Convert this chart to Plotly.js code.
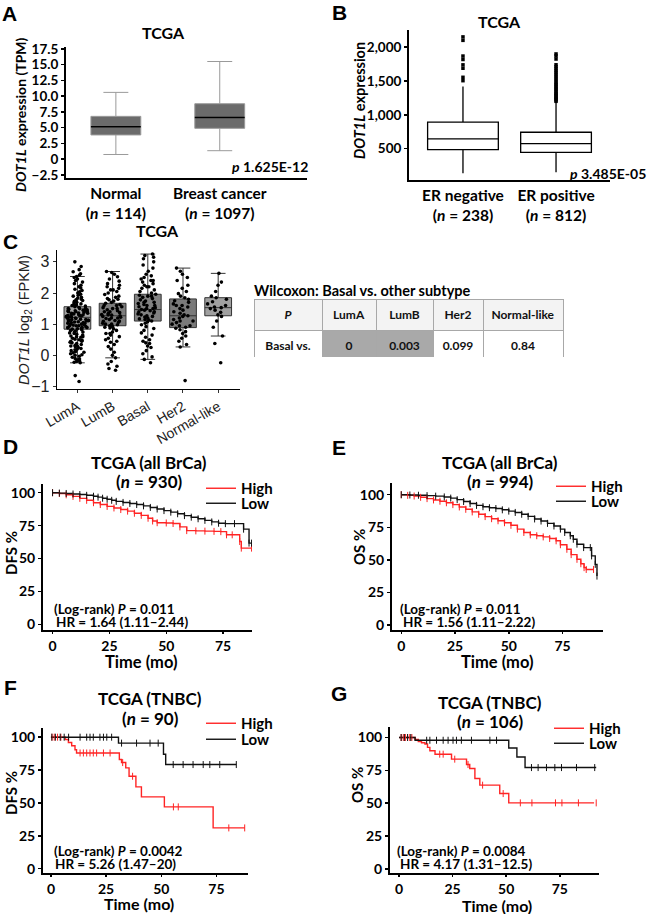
<!DOCTYPE html>
<html><head><meta charset="utf-8">
<script src="https://cdn.plot.ly/plotly-3.0.1.min.js"></script>
<style>html,body{margin:0;padding:0;background:#fff}#chart{width:649px;height:914px}</style>
</head><body><div id="chart"></div>
<script>
// ---------------- DATA ----------------
// Panel A
const aCategories = ['Normal', 'Breast cancer'];
const aTickText = ['<b>Normal</b><br><b>(<i>n</i> = 114)</b>', '<b>Breast cancer</b><br><b>(<i>n</i> = 1097)</b>'];
const aLowerFence = [0.75, 1.35];
const aQ1 = [3.85, 4.9];
const aMedian = [5.15, 6.6];
const aQ3 = [6.8, 8.8];
const aUpperFence = [10.6, 15.5];
const aYTicks = [-2.5, 0, 2.5, 5, 7.5, 10, 12.5, 15, 17.5];
const aYTickText = ['\u22122.5', '0', '2.5', '5.0', '7.5', '10.0', '12.5', '15.0', '17.5'];

// Panel B
const bCategories = ['ER negative', 'ER positive'];
const bTickText = ['<b>ER negative</b><br><b>(<i>n</i> = 238)</b>', '<b>ER positive</b><br><b>(<i>n</i> = 812)</b>'];
const bLowerFence = [137, 152];
const bQ1 = [485, 445];
const bMedian = [645, 575];
const bQ3 = [893, 743];
const bUpperFence = [1420, 1190];
const bOutlierCat = ['ER negative','ER negative','ER negative','ER negative','ER negative','ER negative','ER negative','ER negative',
  'ER positive','ER positive','ER positive','ER positive','ER positive','ER positive','ER positive','ER positive','ER positive','ER positive',
  'ER positive','ER positive','ER positive','ER positive','ER positive','ER positive','ER positive','ER positive','ER positive','ER positive',
  'ER positive','ER positive','ER positive','ER positive','ER positive'];
const bOutlierVal = [1505, 1555, 1689, 1739, 1818, 1869, 2101, 2152,
  1200, 1220, 1240, 1260, 1280, 1300, 1320, 1345, 1370, 1395, 1420, 1445, 1470, 1500, 1530, 1560, 1590, 1620, 1650, 1680, 1710, 1740, 1825, 1870, 1900];
const bYTicks = [500, 1000, 1500, 2000];
const bYTickText = ['500', '1,000', '1,500', '2,000'];

// Panel C
const cCategories = ['LumA', 'LumB', 'Basal', 'Her2', 'Normal-like'];
const cLowerFence = [-0.24, -0.08, -0.13, 0.27, 0.62];
const cQ1 = [0.84, 0.95, 1.10, 0.89, 1.27];
const cMedian = [1.22, 1.27, 1.47, 1.27, 1.53];
const cQ3 = [1.56, 1.67, 1.96, 1.81, 1.85];
const cUpperFence = [2.53, 2.69, 3.25, 2.80, 2.63];
const cFill = ['#a4a4a4', '#7c7c7c', '#828282', '#7a7a7a', '#a0a0a0'];
const cPointsLumA = [-0.84,-0.65,-0.24,-0.22,-0.2,-0.18,-0.15,-0.12,-0.1,-0.06,-0.03,0.0,0.02,0.05,0.08,0.1,0.12,0.15,0.18,0.2,
  0.22,0.25,0.28,0.3,0.32,0.35,0.38,0.4,0.42,0.45,0.48,0.5,0.52,0.55,0.58,0.6,0.62,0.65,0.68,0.7,0.72,0.75,0.78,0.8,0.82,0.84,
  0.85,0.87,0.89,0.9,0.92,0.94,0.95,0.97,0.99,1.0,1.02,1.03,1.05,1.07,1.08,1.1,1.11,1.13,1.15,1.16,1.18,1.19,1.21,1.22,1.23,
  1.25,1.26,1.28,1.3,1.31,1.33,1.35,1.36,1.38,1.4,1.41,1.43,1.45,1.46,1.48,1.5,1.52,1.54,1.56,1.58,1.6,1.62,1.65,1.68,1.7,
  1.73,1.76,1.8,1.83,1.86,1.9,1.93,1.96,2.0,2.04,2.08,2.12,2.16,2.2,2.25,2.3,2.35,2.4,2.45,2.5,2.53,2.58,2.62,2.68,2.75,2.85,
  3.0,0.9,1.0,1.1,1.2,1.3,1.4,1.5,1.05,1.15,1.25,1.35,1.45,0.95,0.88,0.3,0.45,0.6,0.75,1.12,1.28,1.42,1.62,1.78];
const cPointsLumB = [-0.48,-0.42,-0.35,-0.28,-0.2,-0.08,0.0,0.1,0.2,0.28,0.35,0.42,0.5,0.55,0.6,0.65,0.7,0.75,0.8,0.85,0.88,
  0.92,0.95,0.98,1.0,1.03,1.06,1.09,1.12,1.15,1.18,1.2,1.22,1.25,1.27,1.29,1.31,1.34,1.37,1.4,1.43,1.46,1.5,1.53,1.56,1.6,
  1.63,1.67,1.7,1.74,1.78,1.82,1.86,1.9,1.95,2.0,2.05,2.1,2.15,2.2,2.25,2.3,2.38,2.45,2.52,2.6,2.66,2.69,1.1,1.3,1.5,0.9,
  1.2,1.4,1.0,1.6,0.7,1.8,2.1,0.45];
const cPointsBasal = [-0.24,-0.13,-0.05,0.05,0.15,0.25,0.3,0.38,0.45,0.5,0.58,0.65,0.72,0.8,0.86,0.92,0.98,1.03,1.08,1.1,
  1.13,1.17,1.2,1.23,1.27,1.3,1.33,1.36,1.4,1.43,1.45,1.47,1.5,1.53,1.56,1.6,1.63,1.66,1.7,1.74,1.78,1.82,1.86,1.9,1.93,
  1.96,2.0,2.05,2.1,2.15,2.2,2.25,2.3,2.35,2.4,2.45,2.5,2.55,2.6,2.7,2.8,2.9,3.0,3.1,3.15,3.2,3.25,1.5,1.7,1.9,1.6,1.4,
  2.2,2.4,1.25,0.4,1.15];
const cPointsHer2 = [-0.81,0.27,0.35,0.45,0.55,0.62,0.7,0.76,0.82,0.87,0.9,0.95,1.0,1.05,1.1,1.15,1.2,1.25,1.27,1.3,1.35,
  1.4,1.45,1.5,1.55,1.6,1.65,1.7,1.75,1.8,1.85,1.9,1.98,2.05,2.15,2.25,2.4,2.5,2.6,2.7,2.8,0.95,1.1,1.6];
const cPointsNormal = [-0.24,0.38,0.62,0.9,1.1,1.25,1.3,1.38,1.45,1.5,1.53,1.55,1.6,1.65,1.72,1.8,1.85,1.9,2.05,2.25,2.35,2.63];

// Table (Wilcoxon)
const tHeader = ['P', 'LumA', 'LumB', 'Her2', 'Normal-like'];
const tRowLabel = 'Basal vs.';
const tValues = ['0', '0.003', '0.099', '0.84'];

// Panel D (DFS, all BrCa)
const dHighT = [0,3,6,9,12,15,18,21,24,27,30,33,36,39,42,44,46,50,53,56,59,63,67,71,74,76.5,79,82.3,83,87.5];
const dHighS = [100,99.4,98.4,97.2,95.7,94.2,92.4,91,89.6,88.4,87.2,86,84.4,82.8,80.6,78.5,77.2,77,76.6,74,71.2,71,70.8,70.6,70.4,68,68,62.9,57.9,57.9];
const dLowT = [0,3,6,9,12,15,18,20,22,24,26,28,31,34,37,40,43,46,49,52,55,58,61,64,67,70,73,76,80,84,86.4,87.5];
const dLowS = [100,99.7,99.4,99,98.6,98,97.3,96.6,95.8,95,94.2,93.4,92.6,91.8,91,90,88.8,87.6,86.4,85.2,84,82.6,81.4,80.2,79,77.8,76.8,76.5,76.5,72.3,61.7,61.7];

// Panel E (OS, all BrCa)
const eHighT = [0,3,6,9,12,15,18,21,24,27,30,33,36,39,42,45,48,51,54,57,60,63,66,69,72,74,77,79,81.7,83.5,85,86,89.4];
const eHighS = [100,99.5,99,98,97,96,95,93.8,92.4,90.6,88.8,86.8,85,83.2,81.6,80,78.5,76.5,73.6,71,69.2,68.5,67.6,66.4,64.6,61.6,58.1,54,50.4,47,44,42.6,42.6];
const eLowT = [0,4,8,12,16,20,23,26,29,32,35,38,41,44,47,50,53,56,59,62,65,68,71,74,76,78.6,80,81.7,84.8,87.9,88.5,90.2,91];
const eLowS = [100,99.8,99.6,99.3,98.9,98.3,97.4,96.2,94.8,93.2,91.8,90.8,90,89.4,88.4,87.4,86.4,85,83.4,81.4,79.8,78,76,73.6,71,68.5,65.8,62,59.4,59.4,53,46.5,37.5];

// Panel F (DFS, TNBC)
const fHighT = [0,6.5,7.9,9.4,10.9,11.6,31,32,33.9,35.4,38.5,41,51.4,73.5,87.8];
const fHighS = [100,98.2,96,93.5,90.5,88,83,80.7,76.7,70.3,62.2,54.6,47,31,31];
const fHighCensT = [0.5,1.5,3,4.5,13.2,14.7,16.2,17.7,19.2,20.7,23.8,26.8,32.5,37,55.5,57.7,80.6,87.8];
const fHighCensS = [100,100,100,100,88,88,88,88,88,88,88,88,80.7,70.3,47,47,31,31];
const fLowT = [0,30.6,51,52,84];
const fLowS = [100,95.5,87,79.2,79.2];
const fLowCensT = [0.4,2,4.2,6,8,13.2,16.2,17.7,19.2,22.2,23.8,25.3,27.5,32,38.8,44.9,48.6,55.4,59.9,64.4,69,72,76.5,84];
const fLowCensS = [100,100,100,100,100,100,100,100,100,100,100,100,100,95.5,95.5,95.5,95.5,79.2,79.2,79.2,79.2,79.2,79.2,79.2];

// Panel G (OS, TNBC)
const gHighT = [0,7.5,9,10.5,12.1,13.3,14.4,16.8,24.5,31.5,33,35.4,37.7,47,51.2,91];
const gHighS = [100,98.5,97,96,95,92.5,89.9,87.3,83.5,79.4,76.4,68.8,63.7,57.3,50.2,50.2];
const gHighCensT = [1,2,3,4,5,6,19,20.6,26,32.2,39,48.6,56.6,62,73,76,83.7,92];
const gHighCensS = [100,100,100,100,100,100,87.3,87.3,83.5,79.4,63.7,57.3,50.2,50.2,50.2,50.2,50.2,50.2];
const gLowT = [0,7.5,51.2,55,58.8,92];
const gLowS = [100,97.9,92,85.2,77.1,77.1];
const gLowCensT = [1,2.5,4,5.5,12.9,14.4,17.5,20.6,22.9,25.2,26.8,29.1,33.8,42.4,45.5,61.8,64.9,68.8,72.7,75.8,82.8,91.3];
const gLowCensS = [100,100,100,100,97.9,97.9,97.9,97.9,97.9,97.9,97.9,97.9,97.9,97.9,97.9,77.1,77.1,77.1,77.1,77.1,77.1,77.1];

// ---------------- LAYOUT HELPERS ----------------
const W = 649, H = 914;
const FX = p => p / W;
const FY = p => 1 - p / H;
const dom = (x0, x1, y0, y1) => ({x: [FX(x0), FX(x1)], y: [FY(y1), FY(y0)]});
const BOLD = 'Lato, "Open Sans", sans-serif';
const ARIAL = '"Liberation Sans", Arial, sans-serif';
const RED = '#ff2424', BLK = '#111111';

const traces = [];
const annotations = [];
function ann(text, px, py, size, opts) {
  annotations.push(Object.assign({text: text, x: FX(px), y: FY(py), xref: 'paper', yref: 'paper',
    showarrow: false, xanchor: 'center', yanchor: 'middle',
    font: {family: BOLD, size: size, color: '#000', weight: 700}}, opts || {}));
}

// ---------------- PANEL A ----------------
traces.push({type: 'box', xaxis: 'x', yaxis: 'y', x: aCategories, q1: aQ1, median: aMedian, q3: aQ3,
  lowerfence: aLowerFence, upperfence: aUpperFence, width: 0.48, whiskerwidth: 0.5,
  fillcolor: '#6b6b6b', line: {color: '#9a9a9a', width: 1}, showlegend: false, hoverinfo: 'skip'});
traces.push({type: 'box', xaxis: 'x', yaxis: 'y', x: aCategories, q1: aMedian, median: aMedian, q3: aMedian,
  lowerfence: aMedian, upperfence: aMedian, width: 0.48, whiskerwidth: 0,
  fillcolor: 'rgba(0,0,0,0)', line: {color: '#000', width: 1.5}, showlegend: false, hoverinfo: 'skip'});

// ---------------- PANEL B ----------------
traces.push({type: 'box', xaxis: 'x2', yaxis: 'y2', x: bCategories, q1: bQ1, median: bMedian, q3: bQ3,
  lowerfence: bLowerFence, upperfence: bUpperFence, width: 0.76, whiskerwidth: 0,
  fillcolor: '#ffffff', line: {color: '#000', width: 1.3}, showlegend: false, hoverinfo: 'skip'});
traces.push({type: 'scatter', mode: 'markers', xaxis: 'x2', yaxis: 'y2', x: bOutlierCat, y: bOutlierVal,
  marker: {symbol: 'square', size: 3.5, color: '#000'}, showlegend: false, hoverinfo: 'skip'});

// ---------------- PANEL C ----------------
cCategories.forEach((c, i) => {
  traces.push({type: 'box', xaxis: 'x3', yaxis: 'y3', x: [c], q1: [cQ1[i]], median: [cMedian[i]], q3: [cQ3[i]],
    lowerfence: [cLowerFence[i]], upperfence: [cUpperFence[i]], width: 0.76, whiskerwidth: 0.55,
    fillcolor: cFill[i], line: {color: '#333', width: 1}, showlegend: false, hoverinfo: 'skip'});
});
const cPointSets = [cPointsLumA, cPointsLumB, cPointsBasal, cPointsHer2, cPointsNormal];
cPointSets.forEach((vals, i) => {
  traces.push({type: 'box', xaxis: 'x3', yaxis: 'y3', name: cCategories[i], y: vals,
    boxpoints: 'all', jitter: 0.85, pointpos: 0, width: 0.78,
    marker: {color: '#000', size: 3.6}, line: {width: 0, color: 'rgba(0,0,0,0)'}, fillcolor: 'rgba(0,0,0,0)',
    showlegend: false, hoverinfo: 'skip'});
});

// ---------------- TABLE ----------------
traces.push({type: 'table', domain: dom(254, 563, 299, 357), columnwidth: [68, 54, 57, 50, 80],
  header: {values: tHeader.map((h, i) => i === 0 ? '<b><i>' + h + '</i></b>' : '<b>' + h + '</b>'),
    height: 29, align: 'center', fill: {color: '#f3f3f3'}, line: {color: '#a8a8a8', width: 1},
    font: {family: BOLD, size: 12, color: '#111'}},
  cells: {values: [['<b>' + tRowLabel + '</b>']].concat(tValues.map(v => ['<b>' + v + '</b>'])),
    height: 28, align: 'center',
    fill: {color: [['#ffffff'], ['#a9a9a9'], ['#a9a9a9'], ['#ffffff'], ['#ffffff']]},
    line: {color: '#a8a8a8', width: 1}, font: {family: BOLD, size: 12, color: '#111'}}});

// ---------------- KM PANELS ----------------
function km(xa, ya, legH, legL, hT, hS, lT, lS, hCT, hCS, lCT, lCS) {
  traces.push({type: 'scatter', mode: 'lines', xaxis: xa, yaxis: ya, x: hT, y: hS, name: 'High',
    line: {color: RED, width: 1.4, shape: 'hv'}, legend: legH, hoverinfo: 'skip'});
  traces.push({type: 'scatter', mode: 'lines', xaxis: xa, yaxis: ya, x: lT, y: lS, name: 'Low',
    line: {color: BLK, width: 1.4, shape: 'hv'}, legend: legL, hoverinfo: 'skip'});
  traces.push({type: 'scatter', mode: 'markers', xaxis: xa, yaxis: ya, x: hCT, y: hCS, showlegend: false,
    marker: {symbol: 'line-ns-open', size: 5, color: RED, line: {color: RED, width: 1}}, hoverinfo: 'skip'});
  traces.push({type: 'scatter', mode: 'markers', xaxis: xa, yaxis: ya, x: lCT, y: lCS, showlegend: false,
    marker: {symbol: 'line-ns-open', size: 5, color: BLK, line: {color: BLK, width: 1}}, hoverinfo: 'skip'});
}
km('x4', 'y4', 'legend', 'legend2', dHighT, dHighS, dLowT, dLowS, dHighT, dHighS, dLowT, dLowS);
km('x5', 'y5', 'legend3', 'legend4', eHighT, eHighS, eLowT, eLowS, eHighT, eHighS, eLowT, eLowS);
km('x6', 'y6', 'legend5', 'legend6', fHighT, fHighS, fLowT, fLowS, fHighCensT, fHighCensS, fLowCensT, fLowCensS);
km('x7', 'y7', 'legend7', 'legend8', gHighT, gHighS, gLowT, gLowS, gHighCensT, gHighCensS, gLowCensT, gLowCensS);

// ---------------- AXES ----------------
const tickFont = {family: BOLD, size: 13.5, color: '#000', weight: 700};
function yAx(d, range, extra) {
  return Object.assign({domain: d.y, range: range, showline: true, linecolor: '#000', linewidth: 2,
    showgrid: false, zeroline: false, ticks: 'outside', ticklen: 3, tickwidth: 1.5, tickcolor: '#000',
    tickfont: tickFont, fixedrange: true}, extra || {});
}
function xAx(d, range, extra) {
  return Object.assign({domain: d.x, range: range, showline: true, linecolor: '#000', linewidth: 2,
    showgrid: false, zeroline: false, ticks: 'outside', ticklen: 3, tickwidth: 1.5, tickcolor: '#000',
    tickfont: tickFont, fixedrange: true}, extra || {});
}
const dA = dom(66, 307, 47, 178);
const dB = dom(409, 610, 30, 180);
const dC = dom(57, 240, 250, 389);
const dD = dom(43, 252, 484, 630);
const dE = dom(392, 603, 483, 630);
const dF = dom(43, 248, 728, 873);
const dG = dom(390, 599, 727, 873);
const kmFont = {family: BOLD, size: 14, color: '#000', weight: 700};
const kmX = {tickvals: [0, 25, 50, 75], tickfont: kmFont, ticklen: 2};
const kmY = {tickvals: [0, 25, 50, 75, 100], tickfont: kmFont};

const layout = {
  width: W, height: H, margin: {l: 0, r: 0, t: 0, b: 0}, paper_bgcolor: '#fff', plot_bgcolor: 'rgba(0,0,0,0)',
  font: {family: BOLD, color: '#000'}, boxmode: 'overlay',
  xaxis: xAx(dA, [-0.48, 1.84], {anchor: 'y', type: 'category', categoryarray: aCategories, tickvals: aCategories,
    ticktext: aTickText, ticks: '', tickfont: {family: BOLD, size: 15.5, color: '#000'}}),
  yaxis: yAx(dA, [-2.98, 17.8], {anchor: 'x', tickvals: aYTicks, ticktext: aYTickText}),
  xaxis2: xAx(dB, [-0.58, 1.58], {anchor: 'y2', type: 'category', categoryarray: bCategories, tickvals: bCategories,
    ticktext: bTickText, ticks: '', tickfont: {family: BOLD, size: 15.5, color: '#000'}}),
  yaxis2: yAx(dB, [37, 2254], {anchor: 'x2', tickvals: bYTicks, ticktext: bYTickText, tickfont: {family: BOLD, size: 13.5, color: '#000', weight: 700}}),
  xaxis3: xAx(dC, [-0.58, 4.62], {anchor: 'y3', type: 'category', categoryarray: cCategories, tickangle: -30,
    linewidth: 1.3, tickcolor: '#333', tickwidth: 1, tickfont: {family: ARIAL, size: 14, color: '#222'}}),
  yaxis3: yAx(dC, [-1.08, 3.38], {anchor: 'x3', tickvals: [-1, 0, 1, 2, 3], linewidth: 1.3, tickcolor: '#333', tickwidth: 1,
    tickfont: {family: ARIAL, size: 16, color: '#222'}}),
  xaxis4: xAx(dD, [-4.2, 87.7], Object.assign({anchor: 'y4'}, kmX)),
  yaxis4: yAx(dD, [-4.3, 106.6], Object.assign({anchor: 'x4'}, kmY)),
  xaxis5: xAx(dE, [-4.3, 93.8], Object.assign({anchor: 'y5'}, kmX)),
  yaxis5: yAx(dE, [-3.9, 109], Object.assign({anchor: 'x5'}, kmY)),
  xaxis6: xAx(dF, [-3.6, 89.3], Object.assign({anchor: 'y6'}, kmX)),
  yaxis6: yAx(dF, [-3.3, 107], Object.assign({anchor: 'x6'}, kmY)),
  xaxis7: xAx(dG, [-4.2, 93.3], Object.assign({anchor: 'y7'}, kmX)),
  yaxis7: yAx(dG, [-3.2, 108], Object.assign({anchor: 'x7'}, kmY)),
  showlegend: true,
  annotations: annotations
};
const legBase = {xanchor: 'left', yanchor: 'top', bgcolor: 'rgba(0,0,0,0)', borderwidth: 0, tracegroupgap: 0,
  itemwidth: 30, font: {family: BOLD, size: 15, color: '#000', weight: 700}};
// one legend per entry so that each line of the key sits where the reference has it
const legPos = [[201, 472], [201, 487], [551, 470], [551, 485], [201, 707], [201, 723], [549, 712], [549, 727]];
legPos.forEach((p, i) => {
  layout[i === 0 ? 'legend' : 'legend' + (i + 1)] = Object.assign({x: FX(p[0]), y: FY(p[1])}, legBase);
});

// ---------------- TEXT ----------------
const panelFont = {family: ARIAL, size: 21, color: '#000', weight: 700};
ann('<b>A</b>', 0, 14, 21, {xanchor: 'left', font: panelFont});
ann('<b>B</b>', 330, 12, 21, {xanchor: 'left', font: panelFont});
ann('<b>C</b>', 1, 241, 21, {xanchor: 'left', font: panelFont});
ann('<b>D</b>', 1, 447, 21, {xanchor: 'left', font: panelFont});
ann('<b>E</b>', 330, 448, 21, {xanchor: 'left', font: panelFont});
ann('<b>F</b>', 2, 687, 21, {xanchor: 'left', font: panelFont});
ann('<b>G</b>', 329, 693, 21, {xanchor: 'left', font: panelFont});

ann('<b>TCGA</b>', 163, 32, 16);
ann('<b><i>DOT1L</i> expression (TPM)</b>', 21, 115, 14, {textangle: -90});
ann('<b><i>p</i> 1.625E-12</b>', 310, 166, 14, {xanchor: 'right'});

ann('<b>TCGA</b>', 499, 22, 16);
ann('<b><i>DOT1L</i> expression</b>', 359, 101, 14.5, {textangle: -90});
ann('<b><i>p</i> 3.485E-05</b>', 648, 173, 14, {xanchor: 'right'});

ann('<b>TCGA</b>', 157, 231, 16);
ann('<i>DOT1L</i> log<sub>2</sub> (FPKM)', 25, 320, 14.5, {textangle: -90, font: {family: ARIAL, size: 14.5, color: '#222'}});
ann('<b>Wilcoxon: Basal vs. other subtype</b>', 252, 290, 14.5, {xanchor: 'left'});

// D
ann('<b>TCGA (all BrCa)</b>', 149, 462, 17);
ann('<b>(<i>n</i> = 930)</b>', 149, 481, 17);
ann('<b>DFS %</b>', 11, 553, 15, {textangle: -90});
ann('<b>(Log-rank) <i>P</i> = 0.011</b>', 52, 609, 13.5, {xanchor: 'left'});
ann('<b>HR = 1.64 (1.11\u20132.44)</b>', 54, 622, 13.5, {xanchor: 'left'});
ann('<b>Time (mo)</b>', 141, 662, 16.5);
// E
ann('<b>TCGA (all BrCa)</b>', 500, 462, 17);
ann('<b>(<i>n</i> = 994)</b>', 500, 481, 17);
ann('<b>OS %</b>', 359, 547, 15, {textangle: -90});
ann('<b>(Log-rank) <i>P</i> = 0.011</b>', 398, 609, 13.5, {xanchor: 'left'});
ann('<b>HR = 1.56 (1.11\u20132.22)</b>', 401, 622, 13.5, {xanchor: 'left'});
ann('<b>Time (mo)</b>', 497, 662, 16.5);
// F
ann('<b>TCGA (TNBC)</b>', 150, 698, 17);
ann('<b>(<i>n</i> = 90)</b>', 150, 718, 17);
ann('<b>DFS %</b>', 11, 793, 15, {textangle: -90});
ann('<b>(Log-rank) <i>P</i> = 0.0042</b>', 52, 851, 13.5, {xanchor: 'left'});
ann('<b>HR = 5.26 (1.47\u201320)</b>', 53, 864, 13.5, {xanchor: 'left'});
ann('<b>Time (mo)</b>', 139, 903, 16);
// G
ann('<b>TCGA (TNBC)</b>', 490, 702, 17);
ann('<b>(<i>n</i> = 106)</b>', 490, 721, 17);
ann('<b>OS %</b>', 357, 785, 15, {textangle: -90});
ann('<b>(Log-rank) <i>P</i> = 0.0084</b>', 395, 851, 13.5, {xanchor: 'left'});
ann('<b>HR = 4.17 (1.31\u201312.5)</b>', 398, 864, 13.5, {xanchor: 'left'});
ann('<b>Time (mo)</b>', 497, 905, 16);

Plotly.newPlot('chart', traces, layout, {staticPlot: true, displayModeBar: false});
</script></body></html>
